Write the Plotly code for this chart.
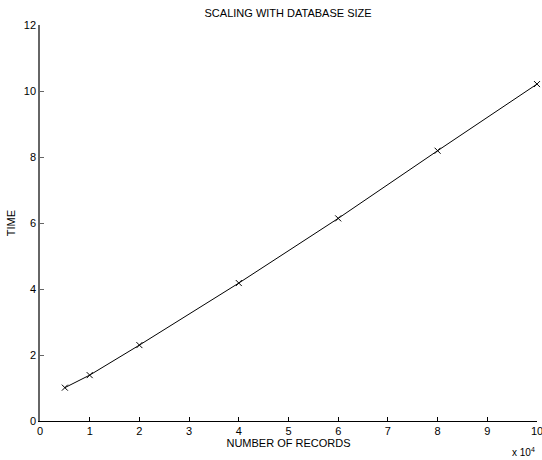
import plotly.graph_objects as go

records = [0.5, 1, 2, 4, 6, 8, 10]  # x 10^4
time_vals = [1.01, 1.39, 2.30, 4.18, 6.14, 8.19, 10.21]
x_ticks = list(range(0, 11))
y_ticks = list(range(0, 13, 2))

fig = go.Figure()
fig.add_trace(go.Scatter(
    x=records, y=time_vals, mode="lines+markers",
    line=dict(color="black", width=1),
    marker=dict(symbol="x-thin", size=6, line=dict(color="black", width=1)),
    cliponaxis=False, showlegend=False,
))

font = dict(family="Liberation Sans, Arial, sans-serif", size=11, color="black")
fig.update_layout(
    width=542, height=460,
    margin=dict(l=40, r=5, t=25, b=39),
    paper_bgcolor="white", plot_bgcolor="white",
    font=font,
    title=dict(text="SCALING WITH DATABASE SIZE", x=0.5315, xanchor="center",
               y=1 - 13 / 460, yanchor="middle", font=dict(size=11)),
    xaxis=dict(range=[0, 10], tickvals=x_ticks, ticktext=[str(v) for v in x_ticks],
               automargin=False,
               showgrid=False, zeroline=False, showline=True, linecolor="black", linewidth=1,
               ticks="inside", ticklen=4, tickcolor="black", ticklabeloverflow="allow",
               title=dict(text="NUMBER OF RECORDS", standoff=2, font=dict(size=11))),
    yaxis=dict(range=[0, 12], tickvals=y_ticks, ticktext=[str(v) for v in y_ticks],
               automargin=False,
               showgrid=False, zeroline=False, showline=True, linecolor="#666", linewidth=1.5,
               ticks="inside", ticklen=4, tickcolor="#666",
               title=dict(text="TIME", standoff=6, font=dict(size=11))),
    annotations=[dict(text="x 10<sup>4</sup>", xref="paper", yref="paper",
                      x=1.0, y=-(452 - 421) / 396, xanchor="right", yanchor="middle",
                      showarrow=False, font=dict(size=10))],
)

fig.write_html("out.html", config={"displayModeBar": False},
               post_script="document.body.style.margin='0';document.body.style.overflow='hidden';")
